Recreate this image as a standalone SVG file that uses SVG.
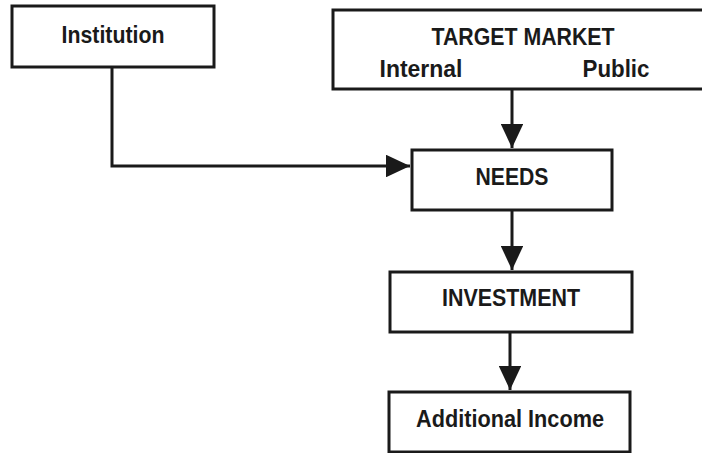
<svg xmlns="http://www.w3.org/2000/svg" width="702" height="453" viewBox="0 0 702 453">
<style>
.box{fill:#fff;stroke:#1a1a1a;stroke-width:3}
.t{font-family:"Liberation Sans",Arial,sans-serif;font-weight:bold;font-size:24px;fill:#1a1a1a;text-anchor:middle}
.c{stroke:#1a1a1a;stroke-width:3;fill:none}
</style>
<defs>
<marker id="ah" viewBox="0 0 10 10" refX="10" refY="5" markerWidth="8" markerHeight="7.5" markerUnits="strokeWidth" orient="auto" preserveAspectRatio="none">
<path d="M0,0 L10,5 L0,10 z" fill="#1a1a1a"/>
</marker>
</defs>
<rect width="702" height="453" fill="#fff"/>
<g id="connectors">
<path class="c" d="M112,67 V166 H410" marker-end="url(#ah)"/>
<path class="c" d="M512,89 V148" marker-end="url(#ah)"/>
<path class="c" d="M512,210 V270" marker-end="url(#ah)"/>
<path class="c" d="M510,332 V390" marker-end="url(#ah)"/>
</g>
<g id="institution">
<rect class="box" x="12" y="6" width="202" height="61"/>
<text class="t" x="113" y="43" textLength="103" lengthAdjust="spacingAndGlyphs">Institution</text>
</g>
<g id="target-market">
<rect class="box" x="333" y="10" width="380" height="79"/>
<text class="t" x="523" y="45" textLength="183" lengthAdjust="spacingAndGlyphs">TARGET MARKET</text>
<text class="t" x="421" y="77" textLength="83" lengthAdjust="spacingAndGlyphs">Internal</text>
<text class="t" x="616" y="77" textLength="67" lengthAdjust="spacingAndGlyphs">Public</text>
</g>
<g id="needs">
<rect class="box" x="412" y="150" width="200" height="60"/>
<text class="t" x="512" y="185" textLength="73" lengthAdjust="spacingAndGlyphs">NEEDS</text>
</g>
<g id="investment">
<rect class="box" x="390" y="272" width="242" height="60"/>
<text class="t" x="511" y="306" textLength="138" lengthAdjust="spacingAndGlyphs">INVESTMENT</text>
</g>
<g id="additional-income">
<rect class="box" x="389" y="392" width="241" height="60"/>
<text class="t" x="510" y="427" textLength="188" lengthAdjust="spacingAndGlyphs">Additional Income</text>
</g>
</svg>
